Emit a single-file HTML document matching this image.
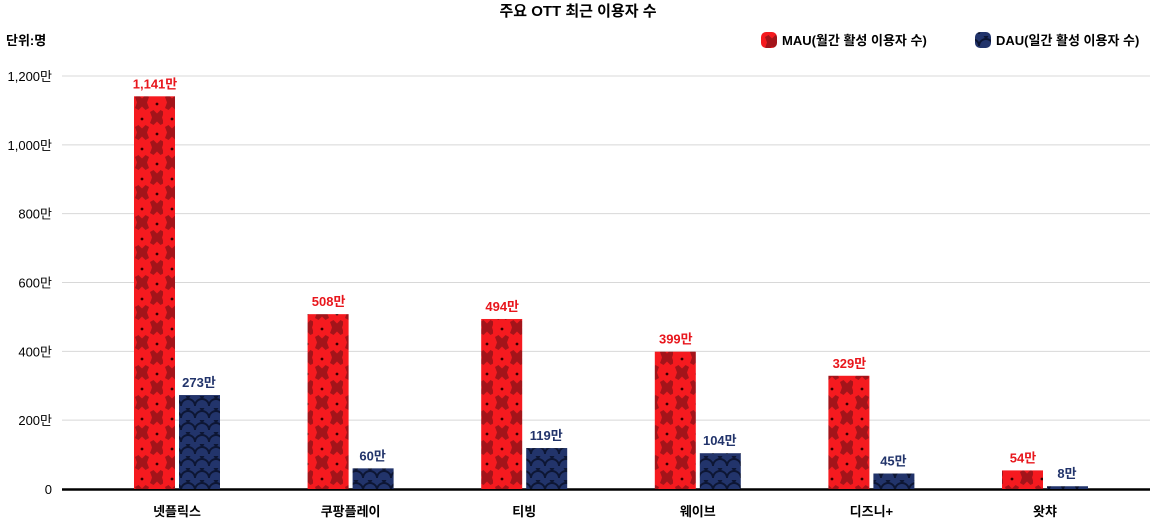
<!DOCTYPE html>
<html><head><meta charset="utf-8"><style>
body{margin:0;background:#fff;font-family:"Liberation Sans","Noto Sans CJK KR",sans-serif}
</style></head><body>
<svg width="1157" height="523" xmlns="http://www.w3.org/2000/svg" font-family="Liberation Sans, Noto Sans CJK KR, sans-serif">
<defs>
<pattern id="pr" width="30" height="30" patternUnits="userSpaceOnUse" x="133" y="95">
<rect width="30" height="30" fill="#f51a1f"/>
<g fill="#a3141a">
<path d="M2 2 l3.5-2 3.5 3.5 3.5-3.5 3.5 2-2 5.5 2 5.5-3.5 2-3.5-3.5-3.5 3.5-3.5-2 2-5.5z"/>
<path d="M17 17 l3.5-2 3.5 3.5 3.5-3.5 3.5 2-2 5.5 2 5.5-3.5 2-3.5-3.5-3.5 3.5-3.5-2 2-5.5z"/>
</g>
<circle cx="24" cy="9" r="1.4" fill="#300"/><circle cx="9" cy="24" r="1.4" fill="#300"/>
</pattern>
<pattern id="pb" width="14" height="12" patternUnits="userSpaceOnUse" x="181" y="396">
<rect width="14" height="12" fill="#22346b"/>
<path d="M0 10 a7 7 0 0 1 14 0 M-7 4 a7 7 0 0 1 14 0 M7 4 a7 7 0 0 1 14 0" fill="none" stroke="#0d1634" stroke-width="2"/>
</pattern>
</defs>
<text x="578" y="16" text-anchor="middle" font-size="15" font-weight="bold">주요 OTT 최근 이용자 수</text>
<text x="6" y="45" font-size="13" font-weight="bold">단위:명</text>
<g>
<rect x="761" y="32" width="16" height="16" rx="5" fill="url(#pr)"/>
<text x="782" y="45" font-size="13" font-weight="bold">MAU(월간 활성 이용자 수)</text>
<rect x="975" y="32" width="16" height="16" rx="5" fill="url(#pb)"/>
<text x="996" y="45" font-size="13" font-weight="bold">DAU(일간 활성 이용자 수)</text>
</g>
<g id="plot"></g>
</svg>
<script>
const categories=["넷플릭스","쿠팡플레이","티빙","웨이브","디즈니+","왓챠"];
const mau=[1141,508,494,399,329,54];
const dau=[273,60,119,104,45,8];
const yTicks=[0,200,400,600,800,1000,1200];
const yTickLabels=["0","200만","400만","600만","800만","1,000만","1,200만"];
const NS="http://www.w3.org/2000/svg";
const plot=document.getElementById('plot');
const y=v=>489-v*(413/1200);
const xc=i=>177+i*173.6;
function mk(t,a,txt){const e=document.createElementNS(NS,t);for(const k in a)e.setAttribute(k,a[k]);if(txt!=null)e.textContent=txt;plot.appendChild(e);return e;}
yTicks.forEach((t,i)=>{
 if(t>0){const g=mk('line',{x1:62,x2:1150,y1:y(t),y2:y(t),stroke:'#d8d8d8'});
 
 }
 const l=mk('text',{x:52,y:y(t)+5,'text-anchor':'end','font-size':13},yTickLabels[i]);
 
 
});
const ax=mk('line',{x1:62,x2:1150,y1:489.5,y2:489.5,stroke:'#000','stroke-width':2.5});


categories.forEach((c,i)=>{
 const cx=xc(i);
 const b1=mk('rect',{x:cx-43,y:y(mau[i]),width:41,height:489-y(mau[i]),fill:'url(#pr)'});
 
 
 const b2=mk('rect',{x:cx+2,y:y(dau[i]),width:41,height:489-y(dau[i]),fill:'url(#pb)'});
 
 
 const v1=mk('text',{x:cx-22,y:y(mau[i])-8,'text-anchor':'middle','font-size':13,'font-weight':'bold',fill:'#e8161c'},mau[i].toLocaleString('en-US')+'만');
 
 
 const v2=mk('text',{x:cx+22,y:y(dau[i])-8,'text-anchor':'middle','font-size':13,'font-weight':'bold',fill:'#22346b'},dau[i].toLocaleString('en-US')+'만');
 
 
 const cl=mk('text',{x:cx,y:516,'text-anchor':'middle','font-size':13,'font-weight':'bold'},c);
 
 
});
</script>
</body></html>
